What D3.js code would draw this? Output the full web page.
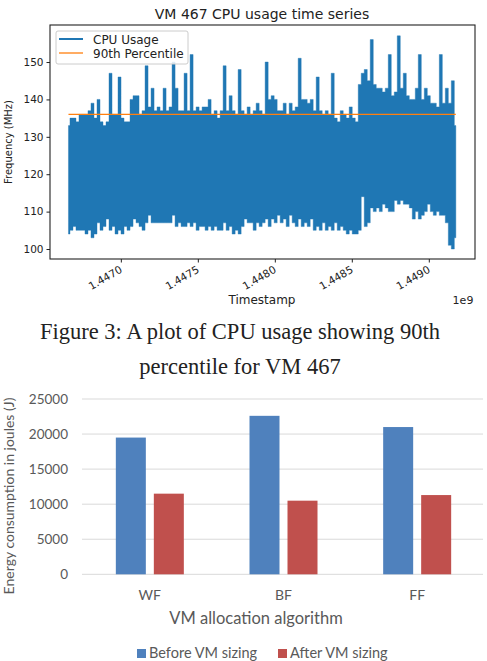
<!DOCTYPE html>
<html>
<head>
<meta charset="utf-8">
<script src="https://cdn.jsdelivr.net/npm/d3@7"></script>
<style>
  body { margin: 0; background: #fff; }
  svg { display: block; }
</style>
</head>
<body>
<div id="chart"></div>
<script>
// ---- top chart: VM 467 CPU usage (min/max envelope) ----
var tStart = 1.44666e9,
    tStep = 19500;

var cpuHigh = [133, 135, 135, 134, 136, 136, 136, 137, 139, 135,
               140, 134, 133, 134, 147, 136, 136, 146, 135, 134,
               134, 140, 141, 141, 136, 137, 149, 138, 143, 137,
               138, 137, 143, 137, 138, 150, 143, 137, 137, 147,
               137, 152, 137, 138, 137, 138, 138, 140, 136, 137,
               135, 137, 149, 137, 141, 137, 136, 148, 137, 136,
               138, 136, 137, 139, 137, 136, 150, 140, 141, 140,
               137, 137, 139, 136, 139, 137, 138, 151, 140, 140,
               139, 140, 137, 146, 137, 136, 137, 136, 147, 135,
               134, 137, 136, 135, 138, 135, 134, 144, 147, 148,
               145, 156, 144, 143, 143, 142, 143, 152, 141, 142,
               157, 143, 147, 141, 140, 140, 143, 152, 140, 143,
               141, 139, 139, 138, 152, 139, 143, 139, 145, 133];

var cpuLow = [104, 105, 106, 105, 105, 105, 104, 105, 103, 104,
              107, 105, 106, 108, 105, 106, 104, 105, 104, 106,
              105, 106, 108, 107, 106, 105, 107, 109, 107, 107,
              107, 107, 107, 107, 107, 109, 106, 107, 106, 106,
              107, 106, 107, 105, 106, 106, 105, 106, 105, 106,
              105, 105, 107, 105, 106, 104, 105, 104, 106, 108,
              107, 107, 105, 107, 106, 107, 108, 106, 108, 107,
              109, 107, 108, 106, 109, 107, 106, 108, 106, 107,
              106, 108, 105, 106, 105, 107, 105, 106, 105, 107,
              105, 106, 105, 104, 105, 104, 104, 105, 114, 106,
              107, 111, 110, 111, 110, 112, 111, 110, 110, 113,
              112, 113, 112, 112, 111, 108, 110, 108, 109, 110,
              112, 110, 109, 110, 109, 109, 107, 101, 100, 103];

var percentile90 = 136;
var timeTicks = [1.447e9, 1.4475e9, 1.448e9, 1.4485e9, 1.449e9];
var freqTicks = [100, 110, 120, 130, 140, 150];

// ---- bottom chart: energy consumption ----
var algorithms = ["WF", "BF", "FF"];
var beforeSizing = [19500, 22600, 21000];
var afterSizing = [11500, 10500, 11300];
var energyTicks = [0, 5000, 10000, 15000, 20000, 25000];
var seriesNames = ["Before VM sizing", "After VM sizing"];

(function() {
    var svg = d3.select("#chart").append("svg")
        .attr("width", 487)
        .attr("height", 661);

    // ================= top chart =================
    var box = { left: 50, top: 25, width: 425, height: 234 };
    var mpl = "DejaVu Sans";

    var x = d3.scaleLinear().domain([1.44654e9, 1.4493e9]).range([0, box.width]);
    var y = d3.scaleLinear().domain([97.33, 159.9]).range([box.height, 0]);

    var g1 = svg.append("g").attr("transform", "translate(" + box.left + "," + box.top + ")");

    // each sample holds the min and max of the dense signal in that slot
    var samples = cpuHigh.map((h, i) => ({ t: tStart + i * tStep, hi: h, lo: cpuLow[i] }));

    g1.append("path")
        .datum(samples)
        .attr("fill", "#1f77b4")
        .attr("stroke", "#1f77b4")
        .attr("stroke-width", 0.4)
        .attr("d", d3.area().curve(d3.curveStep)
            .x(d => x(d.t)).y0(d => y(d.lo)).y1(d => y(d.hi)));

    g1.append("line")
        .attr("x1", x(tStart))
        .attr("x2", x(tStart + (samples.length - 1) * tStep))
        .attr("y1", y(percentile90))
        .attr("y2", y(percentile90))
        .attr("stroke", "#ff7f0e")
        .attr("stroke-width", 1.3);

    var yAxis = g1.append("g")
        .call(d3.axisLeft(y).tickValues(freqTicks).tickSize(3.5).tickPadding(3));
    var xAxis = g1.append("g")
        .attr("transform", "translate(0," + box.height + ")")
        .call(d3.axisBottom(x).tickValues(timeTicks).tickSize(3.5).tickPadding(2)
            .tickFormat(d => d3.format(".4f")(d / 1e9)));

    [xAxis, yAxis].forEach(function(a) {
        a.select(".domain").remove();
        a.selectAll("line").attr("stroke", "#222");
        a.selectAll("text").attr("font-family", mpl).attr("font-size", 10.5).attr("fill", "#222");
    });
    xAxis.selectAll("text")
        .attr("text-anchor", "end")
        .attr("dy", "0.55em")
        .attr("transform", "translate(-4,3) rotate(-30)");

    g1.append("rect")
        .attr("width", box.width)
        .attr("height", box.height)
        .attr("fill", "none")
        .attr("stroke", "#222")
        .attr("stroke-width", 1.1);

    svg.append("text")
        .attr("x", 262).attr("y", 19)
        .attr("text-anchor", "middle")
        .attr("font-family", mpl).attr("font-size", 14).attr("fill", "#222")
        .text("VM 467 CPU usage time series");

    svg.append("text")
        .attr("x", 262).attr("y", 304)
        .attr("text-anchor", "middle")
        .attr("font-family", mpl).attr("font-size", 12).attr("fill", "#222")
        .text("Timestamp");

    svg.append("text")
        .attr("x", 463).attr("y", 304)
        .attr("text-anchor", "middle")
        .attr("font-family", mpl).attr("font-size", 11).attr("fill", "#222")
        .text("1e9");

    svg.append("text")
        .attr("transform", "translate(12,142) rotate(-90)")
        .attr("text-anchor", "middle")
        .attr("font-family", mpl).attr("font-size", 10).attr("fill", "#222")
        .text("Frequency (MHz)");

    // legend
    var leg = svg.append("g").attr("transform", "translate(56,31)");
    leg.append("rect")
        .attr("width", 132).attr("height", 33).attr("rx", 2)
        .attr("fill", "#fff").attr("fill-opacity", 0.85)
        .attr("stroke", "#ccc");
    [["CPU Usage", "#1f77b4", 2], ["90th Percentile", "#ff7f0e", 1.3]].forEach(function(l, i) {
        leg.append("line")
            .attr("x1", 3).attr("x2", 27)
            .attr("y1", 8 + i * 14).attr("y2", 8 + i * 14)
            .attr("stroke", l[1]).attr("stroke-width", l[2]);
        leg.append("text")
            .attr("x", 37).attr("y", 12.5 + i * 14)
            .attr("font-family", mpl).attr("font-size", 12).attr("fill", "#222")
            .text(l[0]);
    });

    // caption
    var caption = svg.append("text")
        .attr("text-anchor", "middle")
        .attr("font-family", "Liberation Serif").attr("font-size", 22.5).attr("fill", "#222");
    caption.append("tspan").attr("x", 240).attr("y", 339).text("Figure 3: A plot of CPU usage showing 90th");
    caption.append("tspan").attr("x", 240).attr("y", 374).text("percentile for VM 467");

    // ================= bottom chart =================
    var bot = { left: 82, top: 399, width: 401, height: 175.3 };
    var xl = "Lato";
    var colors = ["#4f81bd", "#c0504d"];

    var x0 = d3.scaleBand().domain(algorithms).range([0, bot.width]);
    var y2 = d3.scaleLinear().domain([0, 25000]).range([bot.height, 0]);

    var g2 = svg.append("g").attr("transform", "translate(" + bot.left + "," + bot.top + ")");

    g2.selectAll(".grid")
        .data(energyTicks)
        .enter().append("line")
        .attr("class", "grid")
        .attr("x1", 0).attr("x2", bot.width)
        .attr("y1", d => y2(d)).attr("y2", d => y2(d))
        .attr("stroke", "#d9d9d9").attr("stroke-width", 1);

    g2.selectAll(".ytick")
        .data(energyTicks)
        .enter().append("text")
        .attr("class", "ytick")
        .attr("x", -14).attr("y", d => y2(d))
        .attr("dy", "0.35em")
        .attr("text-anchor", "end")
        .attr("font-family", xl).attr("font-size", 13.5).attr("fill", "#595959")
        .text(d => d);

    var barW = 30, barGap = 8;
    [beforeSizing, afterSizing].forEach(function(vals, s) {
        g2.selectAll(".bar" + s)
            .data(vals)
            .enter().append("rect")
            .attr("class", "bar" + s)
            .attr("x", (d, i) => x0(algorithms[i]) + x0.bandwidth() / 2 + 1 + (s === 0 ? -barW - barGap / 2 : barGap / 2))
            .attr("y", d => y2(d))
            .attr("width", barW)
            .attr("height", d => bot.height - y2(d))
            .attr("fill", colors[s]);
    });

    g2.selectAll(".cat")
        .data(algorithms)
        .enter().append("text")
        .attr("class", "cat")
        .attr("x", d => x0(d) + x0.bandwidth() / 2 + 1)
        .attr("y", bot.height + 26)
        .attr("text-anchor", "middle")
        .attr("font-family", xl).attr("font-size", 14).attr("fill", "#595959")
        .text(d => d);

    svg.append("text")
        .attr("x", 256).attr("y", 624)
        .attr("text-anchor", "middle")
        .attr("font-family", xl).attr("font-size", 16.5).attr("fill", "#595959")
        .text("VM allocation algorithm");

    svg.append("text")
        .attr("transform", "translate(14,496) rotate(-90)")
        .attr("text-anchor", "middle")
        .attr("font-family", xl).attr("font-size", 14).attr("fill", "#595959")
        .text("Energy consumption in joules (J)");

    var leg2 = svg.append("g").attr("transform", "translate(137,649)");
    var legX = [0, 141];
    seriesNames.forEach(function(n, i) {
        leg2.append("rect")
            .attr("x", legX[i]).attr("y", 0)
            .attr("width", 9).attr("height", 9)
            .attr("fill", colors[i]);
        leg2.append("text")
            .attr("x", legX[i] + 12).attr("y", 9)
            .attr("font-family", xl).attr("font-size", 14.5).attr("fill", "#595959")
            .text(n);
    });
})();
</script>
</body>
</html>
